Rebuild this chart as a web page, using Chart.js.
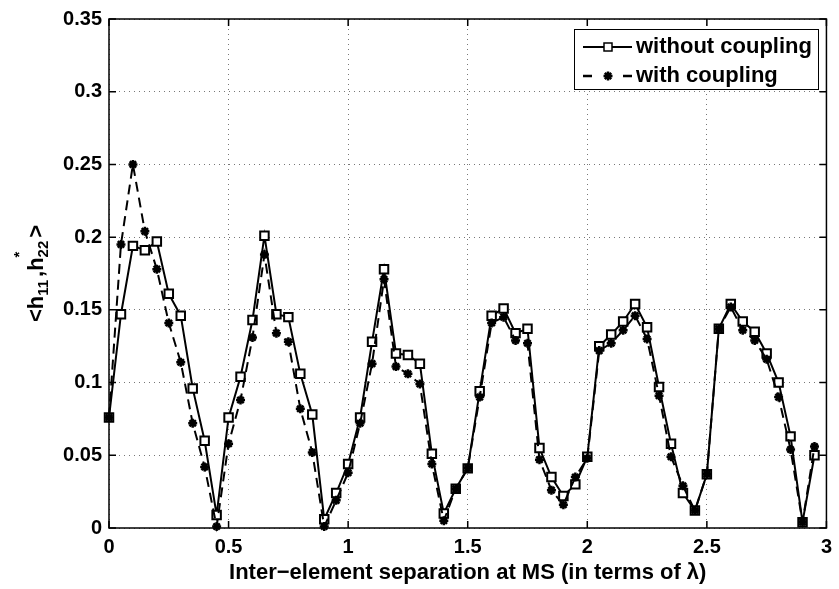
<!DOCTYPE html>
<html>
<head>
<meta charset="utf-8">
<script src="https://cdn.jsdelivr.net/npm/chart.js@4.4.1/dist/chart.umd.min.js"></script>
<style>
  html, body { margin: 0; padding: 0; background: #fff; }
  canvas { display: block; }
</style>
</head>
<body>
<canvas id="myChart" width="839" height="589"></canvas>
<script>
// inter-element separation (in terms of lambda)
const separation = [0, 0.05, 0.1, 0.15, 0.2, 0.25, 0.3, 0.35, 0.4, 0.45,
  0.5, 0.55, 0.6, 0.65, 0.7, 0.75, 0.8, 0.85, 0.9, 0.95,
  1, 1.05, 1.1, 1.15, 1.2, 1.25, 1.3, 1.35, 1.4, 1.45,
  1.5, 1.55, 1.6, 1.65, 1.7, 1.75, 1.8, 1.85, 1.9, 1.95,
  2, 2.05, 2.1, 2.15, 2.2, 2.25, 2.3, 2.35, 2.4, 2.45,
  2.5, 2.55, 2.6, 2.65, 2.7, 2.75, 2.8, 2.85, 2.9, 2.95];

const withoutCoupling = [0.076, 0.147, 0.194, 0.191, 0.197, 0.161, 0.146, 0.096, 0.060, 0.009,
  0.076, 0.104, 0.143, 0.201, 0.147, 0.145, 0.106, 0.078, 0.006, 0.024,
  0.044, 0.076, 0.128, 0.178, 0.120, 0.119, 0.113, 0.051, 0.010, 0.027,
  0.041, 0.094, 0.146, 0.151, 0.134, 0.137, 0.055, 0.035, 0.022, 0.030,
  0.049, 0.125, 0.133, 0.142, 0.154, 0.138, 0.097, 0.058, 0.024, 0.012,
  0.037, 0.137, 0.154, 0.142, 0.135, 0.120, 0.100, 0.063, 0.004, 0.050];

const withCoupling = [0.076, 0.195, 0.250, 0.204, 0.178, 0.141, 0.114, 0.072, 0.042, 0.001,
  0.058, 0.088, 0.131, 0.188, 0.134, 0.128, 0.082, 0.052, 0.001, 0.019,
  0.038, 0.072, 0.113, 0.171, 0.111, 0.106, 0.099, 0.044, 0.005, 0.027,
  0.041, 0.090, 0.141, 0.145, 0.129, 0.127, 0.047, 0.026, 0.016, 0.035,
  0.048, 0.122, 0.127, 0.136, 0.146, 0.130, 0.091, 0.049, 0.029, 0.012,
  0.037, 0.137, 0.152, 0.136, 0.129, 0.116, 0.090, 0.054, 0.004, 0.056];

const seriesNames = ['without coupling', 'with coupling'];
const xTickLabels = ['0', '0.5', '1', '1.5', '2', '2.5', '3'];
const yTickLabels = ['0', '0.05', '0.1', '0.15', '0.2', '0.25', '0.3', '0.35'];

const FONT = "'Liberation Sans', Arial, Helvetica, sans-serif";
Chart.defaults.font.family = FONT;
Chart.defaults.color = '#000';

const toPoints = (ys) => ys.map((v, i) => ({ x: separation[i], y: v }));

// matlab style box, inward ticks, legend and y label
const matlabFrame = {
  id: 'matlabFrame',
  afterDraw(chart) {
    const { ctx, chartArea: a, scales: { x, y } } = chart;
    ctx.save();
    ctx.strokeStyle = '#000';
    ctx.lineWidth = 1.5;
    ctx.strokeRect(a.left, a.top, a.right - a.left, a.bottom - a.top);
    ctx.beginPath();
    x.ticks.forEach((t, i) => {
      const px = x.getPixelForTick(i);
      ctx.moveTo(px, a.bottom); ctx.lineTo(px, a.bottom - 7);
      ctx.moveTo(px, a.top); ctx.lineTo(px, a.top + 7);
    });
    y.ticks.forEach((t, i) => {
      const py = y.getPixelForTick(i);
      ctx.moveTo(a.left, py); ctx.lineTo(a.left + 7, py);
      ctx.moveTo(a.right, py); ctx.lineTo(a.right - 7, py);
    });
    ctx.stroke();

    // legend
    const lx = 574, ly = 29, lw = 244, lh = 60;
    ctx.fillStyle = '#fff';
    ctx.fillRect(lx, ly, lw, lh);
    ctx.lineWidth = 1;
    ctx.strokeRect(lx + 0.5, ly + 0.5, lw, lh);
    const rows = [47, 76];
    ctx.lineWidth = 2;
    // row 1: solid line + square
    ctx.beginPath();
    ctx.moveTo(583, rows[0]); ctx.lineTo(632, rows[0]);
    ctx.stroke();
    ctx.fillStyle = '#fff';
    ctx.fillRect(604, rows[0] - 4, 8, 8);
    ctx.lineWidth = 1.5;
    ctx.strokeRect(604, rows[0] - 4, 8, 8);
    // row 2: dashed line + star
    ctx.lineWidth = 2.5;
    ctx.beginPath();
    ctx.moveTo(583, rows[1]); ctx.lineTo(592, rows[1]);
    ctx.moveTo(623, rows[1]); ctx.lineTo(632, rows[1]);
    for (let k = 0; k < 4; k++) {
      const ang = k * Math.PI / 4;
      ctx.moveTo(608 - 4.5 * Math.cos(ang), rows[1] - 4.5 * Math.sin(ang));
      ctx.lineTo(608 + 4.5 * Math.cos(ang), rows[1] + 4.5 * Math.sin(ang));
    }
    ctx.stroke();
    ctx.fillStyle = '#000';
    ctx.font = 'bold 22px ' + FONT;
    ctx.textBaseline = 'middle';
    ctx.textAlign = 'left';
    ctx.fillText(seriesNames[0], 636, rows[0]);
    ctx.fillText(seriesNames[1], 636, rows[1]);

    // y label <h_11, h*_22>
    const main = 'bold 22px ' + FONT, small = 'bold 15px ' + FONT;
    const parts = [
      { t: '<', f: main, dy: 0 },
      { t: 'h', f: main, dy: 0 },
      { t: '11', f: small, dy: 5, gap: 3 },
      { t: ',', f: main, dy: 0 },
      { t: 'h', f: main, dy: 0 },
      { t: '*', f: small, dy: -19, w0: true },
      { t: '22', f: small, dy: 5, gap: 3 },
      { t: '>', f: main, dy: 0 }
    ];
    let total = 0;
    parts.forEach(p => {
      ctx.font = p.f;
      p.w = p.w0 ? 0 : ctx.measureText(p.t).width + (p.gap || 0);
      total += p.w;
    });
    ctx.translate(43, (a.top + a.bottom) / 2);
    ctx.rotate(-Math.PI / 2);
    ctx.textBaseline = 'alphabetic';
    let cx = -total / 2;
    parts.forEach(p => {
      ctx.font = p.f;
      ctx.fillText(p.t, cx, p.dy);
      cx += p.w;
    });
    ctx.restore();
  }
};

new Chart(document.getElementById('myChart'), {
  type: 'line',
  data: {
    datasets: [
      {
        label: seriesNames[0],
        data: toPoints(withoutCoupling),
        borderColor: '#000',
        borderWidth: 2,
        pointStyle: 'rect',
        pointRadius: 6,
        pointBorderWidth: 2,
        pointBackgroundColor: '#fff',
        pointBorderColor: '#000',
        tension: 0,
        clip: false,
        order: 1
      },
      {
        label: seriesNames[1],
        data: toPoints(withCoupling),
        borderColor: '#000',
        borderWidth: 2,
        borderDash: [10, 6],
        pointStyle: 'star',
        pointRadius: 4.5,
        pointBorderWidth: 2.5,
        pointBackgroundColor: '#000',
        pointBorderColor: '#000',
        tension: 0,
        clip: false,
        order: 0
      }
    ]
  },
  options: {
    responsive: false,
    animation: false,
    devicePixelRatio: 1,
    layout: { padding: { left: 0, right: 6, top: 18, bottom: 0 } },
    plugins: {
      legend: { display: false },
      tooltip: { enabled: false }
    },
    scales: {
      x: {
        type: 'linear',
        min: 0,
        max: 3,
        afterFit: (s) => { s.height = 61; },
        ticks: {
          stepSize: 0.5,
          padding: 7,
          font: { size: 20, weight: 'bold' },
          callback: (v, i) => xTickLabels[i]
        },
        grid: { color: '#777', lineWidth: 1, drawTicks: false },
        border: { display: false, dash: [1, 4] },
        title: {
          display: true,
          text: 'Inter\u2212element separation at MS (in terms of \u03bb)',
          font: { size: 22, weight: 'bold' },
          padding: { top: 0, bottom: 3 }
        }
      },
      y: {
        min: 0,
        max: 0.35,
        afterFit: (s) => { s.width = 109; },
        ticks: {
          stepSize: 0.05,
          padding: 7,
          font: { size: 20, weight: 'bold' },
          callback: (v, i) => yTickLabels[i]
        },
        grid: { color: '#777', lineWidth: 1, drawTicks: false },
        border: { display: false, dash: [1, 4] }
      }
    }
  },
  plugins: [matlabFrame]
});
</script>
</body>
</html>
